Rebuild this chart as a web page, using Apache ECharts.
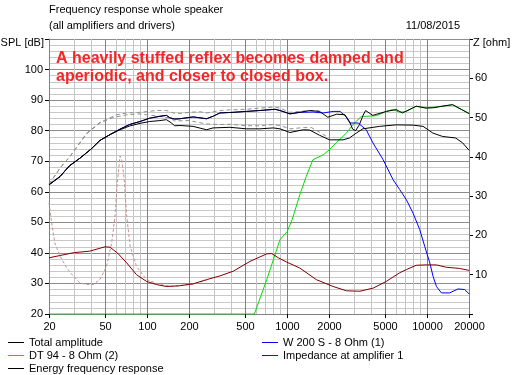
<!DOCTYPE html>
<html><head><meta charset="utf-8">
<script src="https://cdn.jsdelivr.net/npm/echarts@6/dist/echarts.min.js"></script>
<style>html,body{margin:0;padding:0;background:#fff}#c{width:514px;height:375px}</style>
</head><body><div id="c"></div>
<script>
const FONT = "'Liberation Sans', Arial, sans-serif";
// vertical grid frequencies (labelled ones are major)
const majorFreqs = [20, 50, 100, 200, 500, 1000, 2000, 5000, 10000, 20000];
const minorFreqs = [30, 40, 60, 70, 80, 90, 300, 400, 600, 700, 800, 900, 3000, 4000, 6000, 7000, 8000, 9000];

// [frequency Hz, SPL dB]
const totalAmplitude = [[20,62.3],[24,65.0],[28,68.5],[33.3,71.0],[40,74],[46.2,76.8],[55,78.8],[64.3,80.5],[75,82],[89.4,83.0],[105,84.1],[124,84.7],[138,85.0],[146,84.2],[158,83.8],[172,83.9],[214,84.5],[267,83.9],[300,84.8],[332,85.8],[413,86.0],[515,86.3],[642,86.6],[823,87.0],[893,86.6],[1052,85.5],[1237,86.0],[1455,86.6],[1712,86.3],[1960,84.4],[2276,85.4],[2600,85.2],[2800,83],[2950,80.5],[3100,80],[3300,82],[3500,85],[3650,86.6],[4110,85],[5134,86.3],[6037,86.9],[6700,85.8],[8390,88],[9878,87.4],[11200,87.5],[12810,88],[15270,88.5],[17740,86.9],[20000,85.6]];
const energyResponse = [[20,62.3],[24,65.0],[28,68.5],[33.3,71.0],[40,74],[46.2,76.8],[55,78.8],[64.3,80.3],[75,81.5],[89.4,82.4],[105,83.0],[124,83.3],[138,83.6],[150,82.5],[158,81.6],[172,81.7],[214,81.4],[267,80.3],[297,80.9],[392,81.1],[515,80.6],[642,80.6],[800,80.9],[893,80.6],[1052,79.4],[1309,80.3],[1455,80.2],[1712,78.5],[2015,77],[2520,77],[2800,77.6],[3130,79.2],[3490,80.6],[4590,81.4],[6037,81.9],[8000,81.8],[9400,81.4],[11050,79.2],[12970,78.1],[16070,77.6],[18000,76],[20000,73.6]];
const wooferW200 = [[20,62.3],[24,65.0],[28,68.5],[33.3,71.0],[40,74],[46.2,76.8],[55,78.8],[64.3,80.5],[75,82],[89.4,83.0],[105,84.1],[124,84.7],[138,85.0],[146,84.2],[158,83.8],[172,83.9],[214,84.5],[267,83.9],[300,84.8],[332,85.8],[413,86.0],[515,86.3],[642,86.6],[823,87.0],[893,86.6],[1052,85.5],[1237,86.0],[1535,86.1],[1820,85.8],[2140,86.3],[2400,86.3],[2630,84.7],[2820,82.5],[3230,82.5],[3690,80.3],[4120,76],[4870,70.5],[5730,64],[6400,60.7],[7140,57.4],[7970,53],[8900,47.6],[9660,42.1],[10500,36.7],[11080,32.3],[11710,29],[12710,26.9],[14550,26.9],[16680,28.2],[18630,28],[20000,26.6]];
const tweeterDT94 = [[20,20],[586,20],[718,31.2],[893,44.3],[1006,47],[1091,50.9],[1237,59],[1375,65],[1535,70.5],[1820,72.1],[2015,73.8],[2252,76],[2660,79.2],[2970,82],[3405,84.7],[3690,84.7],[4360,84.9],[5134,86.3],[5700,86.9],[6400,86],[7140,86.3],[8390,88],[9878,87.4],[12810,88],[15270,88.5],[17740,86.9],[20000,85.6]];
// earlier (unstuffed) measurement, dashed
const oldTotal = [[20,62.5],[22.7,66.1],[24,67.8],[28.3,71.6],[29.9,73.2],[37.2,79.2],[46.2,82.7],[57.5,84.7],[60.7,85.2],[71.9,85.8],[89.4,86.0],[117.4,86.6],[138,86.6],[154,85.8],[172,85.6],[200,86.0],[239,86.2],[270,85.8],[332,86.6],[392,86.8],[515,87],[642,87.4],[800,87.7],[893,87.4],[1052,86],[1237,86.3],[1455,86.6],[1712,86.4]];
const oldEnergy = [[20,62.5],[24,67.8],[28.3,71.6],[37.2,79.0],[46.2,82.5],[57.5,84.3],[71.9,85.2],[89.4,85.5],[99.6,85.2],[120,84.8],[146,84.1],[158,83.2],[200,83.3],[267,82.2],[332,82],[392,82.1],[515,81.6],[642,81.6],[800,82],[893,81.7],[1052,80.6],[1309,81],[1500,81],[1712,79.5],[2015,77.5]];
// [frequency Hz, impedance ohm]
const impedance = [[20,14.3],[29.9,15.6],[39.1,16.0],[50.2,17.1],[54.6,17.0],[62.6,15.3],[71.8,13.0],[84.4,10.0],[99.4,8.3],[117,7.5],[138,7.0],[172,7.2],[215,7.7],[267,8.75],[333,9.7],[414,10.9],[546,13.4],[718,15.3],[780,15.4],[870,14.3],[1000,13.2],[1237,11.7],[1624,8.75],[2140,7.0],[2670,5.9],[3330,5.8],[4140,6.6],[5134,8.3],[5730,9.4],[6400,10.5],[7140,11.3],[8390,12.4],[9880,12.5],[11700,12.5],[13760,11.9],[17150,11.6],[20000,11.1]];
const oldImpedance = [[20,28.3],[20.9,23.2],[22,18.1],[24,14.7],[26.8,11.7],[29.9,9.6],[33.3,7.9],[37.2,7.5],[41.4,7.5],[46.2,8.75],[51.5,12.1],[56.1,18.1],[59.2,24.9],[61.5,33.4],[64.3,40.2],[66,39.4],[68.6,35.1],[71.8,24.9],[76,17.2],[84.4,12.1],[99.4,8.75],[124,7.5],[154,7.0],[215,7.6],[267,8.6]];

const gridData = majorFreqs.map(f => [f, 1]).concat(minorFreqs.map(f => [f, 0]));

function lineSeries(name, data, color, yIdx, z, dash) {
  return {
    name, type: 'line', data, yAxisIndex: yIdx, z,
    symbol: 'none', showSymbol: false, smooth: false, animation: false,
    lineStyle: { color, width: 1, type: dash || 'solid' },
    itemStyle: { color }, emphasis: { disabled: true }
  };
}

const chart = echarts.init(document.getElementById('c'), null, { renderer: 'canvas' });
chart.setOption({
  animation: false,
  backgroundColor: '#fff',
  grid: { left: 49, top: 39, width: 420, height: 275, containLabel: false },
  xAxis: {
    type: 'log', logBase: 10, min: 20, max: 20000,
    axisLine: { show: true, lineStyle: { color: '#808080' } },
    axisTick: { show: false }, axisLabel: { show: false },
    splitLine: { show: false }, minorSplitLine: { show: false }
  },
  yAxis: [{
    type: 'value', min: 20, max: 110, interval: 10, position: 'left',
    axisLine: { show: true, lineStyle: { color: '#808080' } },
    axisTick: { show: true, length: 4, lineStyle: { color: '#000' } },
    axisLabel: { color: '#000', fontSize: 11, fontFamily: FONT, margin: 6, formatter: v => v === 110 ? '' : String(v) },
    splitLine: { show: true, lineStyle: { color: '#8c8c8c' } },
    minorTick: { show: false, splitNumber: 5 },
    minorSplitLine: { show: true, lineStyle: { color: '#c8c8c8' } }
  }, {
    type: 'value', min: 0, max: 70, interval: 10, position: 'right',
    axisLine: { show: true, lineStyle: { color: '#808080' } },
    axisTick: { show: true, length: 4, lineStyle: { color: '#000' } },
    axisLabel: { color: '#000', fontSize: 11, fontFamily: FONT, margin: 6, formatter: v => (v === 0 || v === 70) ? '' : String(v) },
    splitLine: { show: false }
  }],
  legend: [{
    orient: 'vertical', left: 8, top: 336, padding: 0, itemGap: 0, itemWidth: 16, itemHeight: 1, icon: 'rect',
    selectedMode: false,
    textStyle: { color: '#000', fontSize: 11, fontFamily: FONT, lineHeight: 13 },
    data: ['Total amplitude', 'DT 94 - 8 Ohm (2)', 'Energy frequency response']
  }, {
    orient: 'vertical', left: 262, top: 336, padding: 0, itemGap: 0, itemWidth: 16, itemHeight: 1, icon: 'rect',
    selectedMode: false,
    textStyle: { color: '#000', fontSize: 11, fontFamily: FONT, lineHeight: 13 },
    data: ['W 200 S - 8 Ohm (1)', 'Impedance at amplifier 1']
  }],
  graphic: [
    { type: 'text', left: 49, top: 4, style: { text: 'Frequency response whole speaker', font: '11px ' + FONT, fill: '#000' } },
    { type: 'text', left: 49, top: 20, style: { text: '(all amplifiers and drivers)', font: '11px ' + FONT, fill: '#000' } },
    { type: 'text', right: 54, top: 20, style: { text: '11/08/2015', font: '11px ' + FONT, fill: '#000' } },
    { type: 'text', right: 470, top: 37, style: { text: 'SPL [dB]', font: '11px ' + FONT, fill: '#000' } },
    { type: 'text', left: 473, top: 37, style: { text: 'Z [ohm]', font: '11px ' + FONT, fill: '#000' } },
    { type: 'text', left: 56, top: 51, z: 100, style: { text: 'A heavily stuffed reflex becomes damped and', font: "bold 16px " + FONT, fill: '#f42626' } },
    { type: 'text', left: 56, top: 69, z: 100, style: { text: 'aperiodic, and closer to closed box.', font: "bold 16px " + FONT, fill: '#f42626' } }
  ],
  series: [
    {
      type: 'custom', name: 'grid', z: 1, silent: true, animation: false,
      data: gridData,
      renderItem: function (params, api) {
        const f = api.value(0), major = api.value(1);
        const top = api.coord([f, 110]);
        const bot = api.coord([f, 20]);
        const x = Math.round(top[0]) + 0.5;
        const children = [{
          type: 'line', shape: { x1: x, y1: top[1], x2: x, y2: bot[1] },
          style: { stroke: major ? '#808080' : '#c4c4c4', lineWidth: 1 }
        }];
        if (major) {
          children.push({ type: 'line', shape: { x1: x, y1: bot[1], x2: x, y2: bot[1] + 4 }, style: { stroke: '#000', lineWidth: 1 } });
          children.push({ type: 'text', style: { text: String(f), x: x, y: bot[1] + 7, align: 'center', verticalAlign: 'top', font: '11px ' + FONT, fill: '#000' } });
        }
        return { type: 'group', children };
      }
    },
    lineSeries('oldImpedance', oldImpedance, '#c89090', 1, 2, [3, 2]),
    lineSeries('oldEnergy', oldEnergy, '#909090', 0, 2, [4, 3]),
    lineSeries('oldTotal', oldTotal, '#909090', 0, 2, [4, 3]),
    lineSeries('DT 94 - 8 Ohm (2)', tweeterDT94, '#00dd00', 0, 3),
    lineSeries('W 200 S - 8 Ohm (1)', wooferW200, '#0000ff', 0, 3),
    lineSeries('Impedance at amplifier 1', impedance, '#800000', 1, 4),
    lineSeries('Energy frequency response', energyResponse, '#000000', 0, 5),
    lineSeries('Total amplitude', totalAmplitude, '#000000', 0, 5)
  ]
});
</script></body></html>
